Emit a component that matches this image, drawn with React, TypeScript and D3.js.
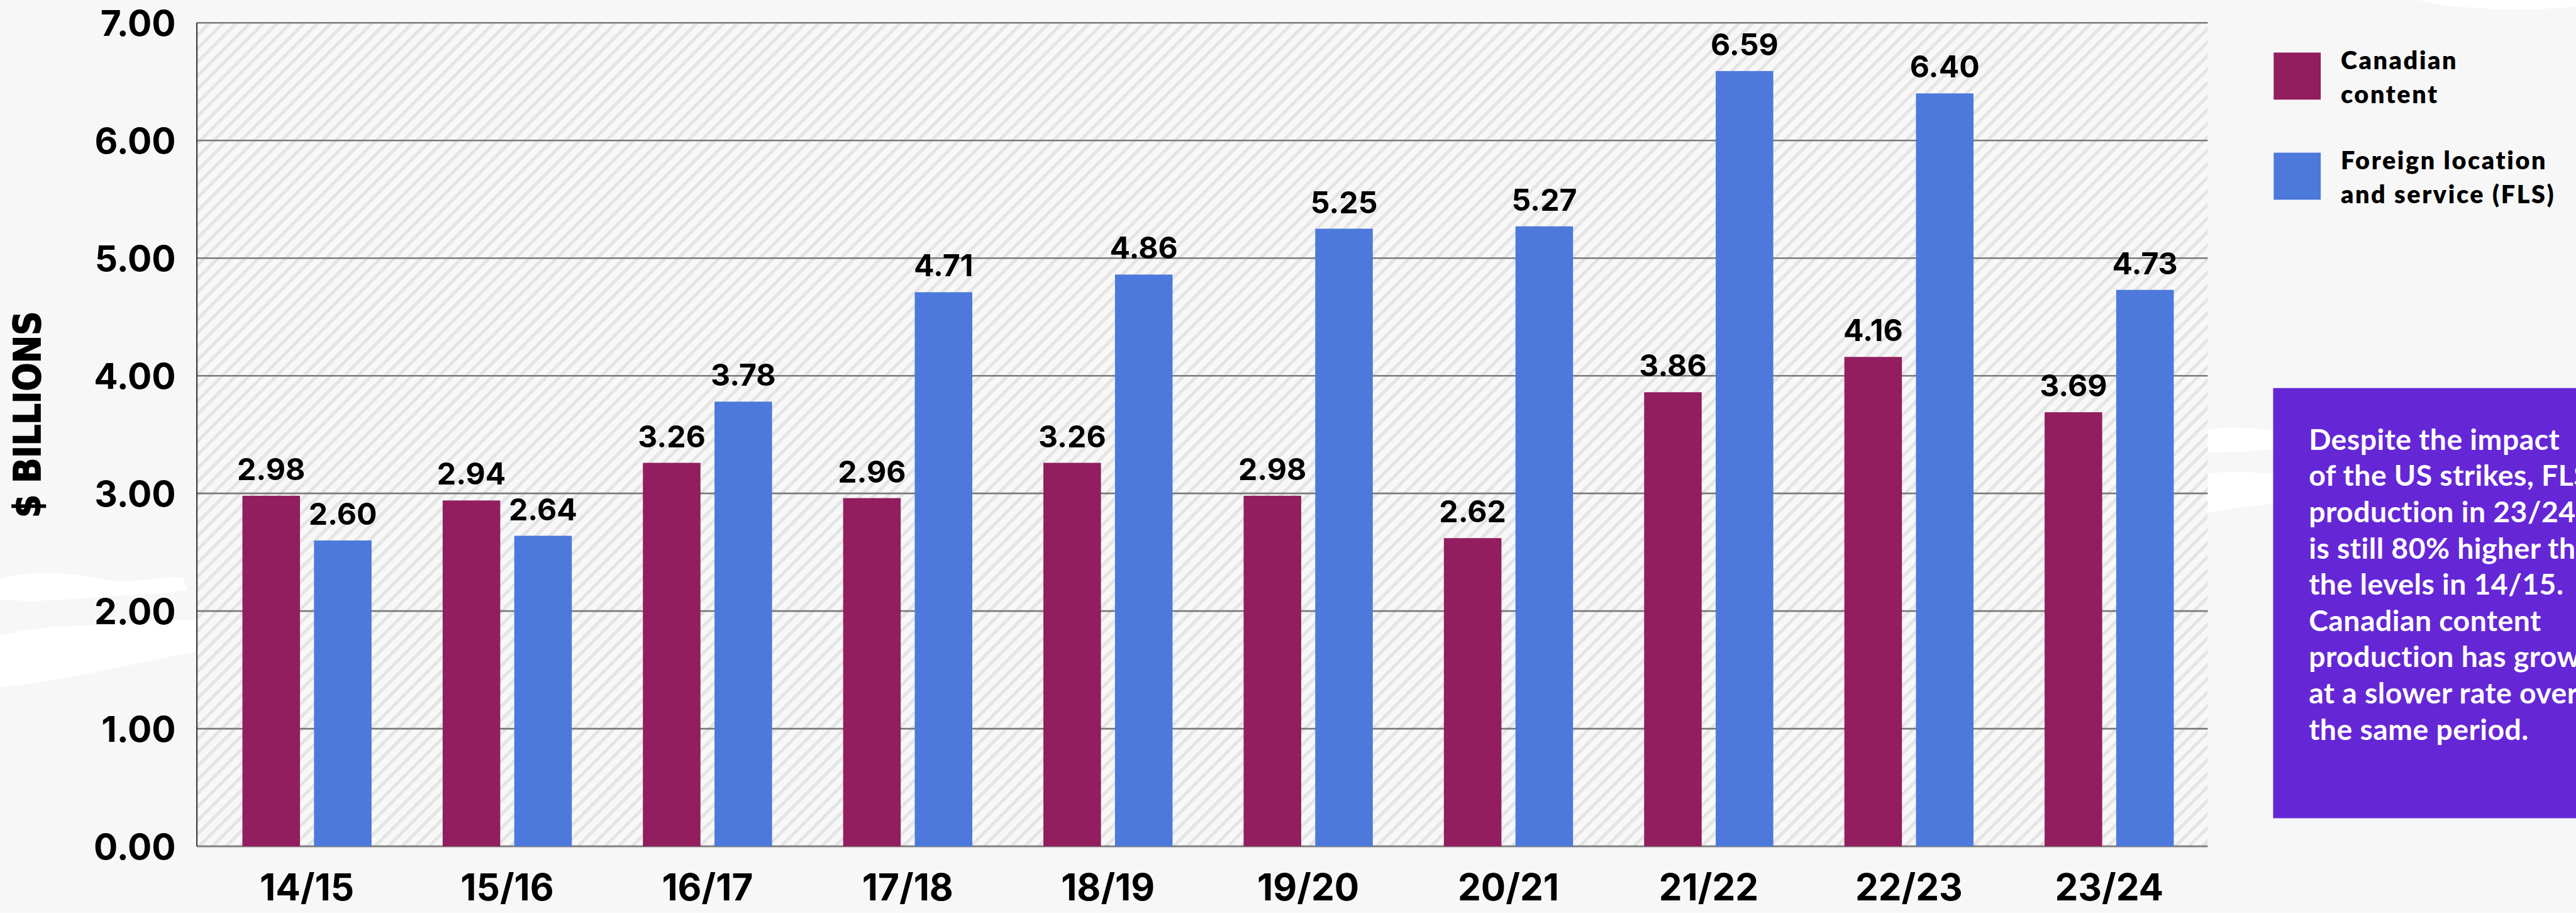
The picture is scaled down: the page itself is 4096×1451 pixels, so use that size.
import React from "react";
import * as d3 from "d3";

// chart data
const categories = ["14/15", "15/16", "16/17", "17/18", "18/19", "19/20", "20/21", "21/22", "22/23", "23/24"];
const canadian = [2.98, 2.94, 3.26, 2.96, 3.26, 2.98, 2.62, 3.86, 4.16, 3.69];
const fls = [2.6, 2.64, 3.78, 4.71, 4.86, 5.25, 5.27, 6.59, 6.4, 4.73];
const yTicks = [0, 1, 2, 3, 4, 5, 6, 7];
const seriesKeys = ["canadian", "fls"];
const seriesNames = [["Canadian", "content"], ["Foreign location", "and service (FLS)"]];
const calloutLines = [
  "Despite the impact",
  "of the US strikes, FLS",
  "production in 23/24",
  "is still 80% higher than",
  "the levels in 14/15.",
  "Canadian content",
  "production has grown",
  "at a slower rate over",
  "the same period.",
];

const colors = { canadian: "#921d5f", fls: "#4c79db" };

// reference canvas, scaled down to the window by the viewBox
const W = 4763;
const H = 1687;
const plot = { left: 364, right: 4082, top: 42, bottom: 1564 };

const numFont = "Inter, 'Liberation Sans', Arial, sans-serif";
const textFont = "Lato, 'Noto Sans', sans-serif";

export default function App() {
  const x0 = d3
    .scaleBand()
    .domain(categories)
    .range([382.5, 4085])
    .paddingInner(0.355)
    .paddingOuter(0.1775);

  const x1 = d3.scaleBand().domain(seriesKeys).range([0, x0.bandwidth()]).paddingInner(0.196);

  const y = d3.scaleLinear().domain([0, 7]).range([plot.bottom, plot.top]);

  const rows = categories.map((c, i) => ({ cat: c, canadian: canadian[i], fls: fls[i] }));

  return (
    <svg
      width={4096}
      height={1451}
      viewBox={`0 0 ${W} ${H}`}
      style={{ position: "absolute", left: 0, top: 0, display: "block" }}
    >
      <defs>
        <pattern id="hatch" patternUnits="userSpaceOnUse" width={17.7} height={17.7} patternTransform="rotate(45)">
          <rect width={17.7} height={17.7} fill="#f8f8f8" />
          <rect width={6} height={17.7} fill="#e4e4e4" />
        </pattern>
      </defs>

      <rect width={W} height={H} fill="#f7f7f7" />

      {/* white brush strokes in the background */}
      <g fill="#ffffff">
        <path d="M0,1070 C60,1050 140,1060 200,1072 C260,1080 300,1062 340,1068 L345,1090 C290,1100 230,1098 170,1104 C110,1110 50,1112 0,1108 Z" />
        <path d="M0,1175 C90,1150 180,1160 260,1150 C330,1142 400,1148 460,1140 L470,1180 C390,1200 300,1215 210,1235 C140,1250 70,1262 0,1270 Z" opacity={0.9} />
        <path d="M4050,800 C4100,785 4160,790 4205,796 L4205,830 C4150,835 4100,838 4055,834 Z" />
        <path d="M4060,880 C4110,868 4160,872 4205,876 L4205,930 C4150,936 4100,944 4070,950 C4050,930 4050,900 4060,880 Z" />
        <path d="M4470,0 L4763,0 L4763,12 C4680,20 4600,18 4520,10 Z" />
      </g>

      {/* plot area */}
      <rect x={plot.left} y={plot.top} width={plot.right - plot.left} height={plot.bottom - plot.top} fill="url(#hatch)" />

      {yTicks.slice(1).map((t) => (
        <line key={t} x1={plot.left} x2={plot.right} y1={y(t)} y2={y(t)} stroke="#7a7a7a" strokeWidth={3} />
      ))}
      <line x1={plot.left} x2={plot.right} y1={y(0)} y2={y(0)} stroke="#808080" strokeWidth={3.5} />
      <line x1={plot.left} x2={plot.left} y1={plot.top} y2={plot.bottom} stroke="#3a3a3a" strokeWidth={2.5} />

      {/* bars */}
      {rows.map((r) => (
        <g key={r.cat} transform={`translate(${x0(r.cat)},0)`}>
          {seriesKeys.map((k) => {
            const v = r[k];
            return (
              <g key={k}>
                <rect x={x1(k)} y={y(v)} width={x1.bandwidth()} height={y(0) - y(v)} fill={colors[k]} />
                <text
                  x={x1(k) + x1.bandwidth() / 2}
                  y={y(v) - 29}
                  textAnchor="middle"
                  fontFamily={numFont}
                  fontWeight={700}
                  fontSize={56}
                  fill="#000"
                >
                  {v.toFixed(2)}
                </text>
              </g>
            );
          })}
        </g>
      ))}

      {/* y axis labels */}
      {yTicks.map((t) => (
        <text
          key={t}
          x={325}
          y={y(t)}
          dy="0.36em"
          textAnchor="end"
          fontFamily={numFont}
          fontWeight={700}
          fontSize={66}
          fill="#000"
        >
          {t.toFixed(2)}
        </text>
      ))}

      <text
        transform="translate(74,766) rotate(-90)"
        textAnchor="middle"
        fontFamily="'Liberation Sans Narrow', 'DejaVu Sans Condensed', sans-serif"
        fontStretch="condensed"
        fontWeight={700}
        fontSize={68}
        stroke="#000"
        strokeWidth={2}
        fill="#000"
      >
        $ BILLIONS
      </text>

      {/* x axis labels */}
      {categories.map((c) => (
        <text
          key={c}
          x={x0(c) + x0.bandwidth() / 2}
          y={1664}
          textAnchor="middle"
          fontFamily={numFont}
          fontWeight={700}
          fontSize={68}
          fill="#000"
        >
          {c}
        </text>
      ))}

      {/* legend */}
      {seriesKeys.map((k, i) => (
        <g key={k} transform={`translate(4204,${97 + i * 185})`}>
          <rect width={87} height={87} fill={colors[k]} />
          {seriesNames[i].map((line, j) => (
            <text
              key={j}
              x={124}
              y={31 + j * 62}
              fontFamily={textFont}
              fontWeight={800}
              fontSize={46}
              letterSpacing={3}
              fill="#000"
            >
              {line}
            </text>
          ))}
        </g>
      ))}

      {/* callout */}
      <rect x={4203} y={717} width={W - 4203} height={1512 - 717} fill="#6527d6" />
      {calloutLines.map((line, i) => (
        <text
          key={i}
          x={4269}
          y={831 + i * 67}
          fontFamily={textFont}
          fontWeight={700}
          fontSize={54}
          letterSpacing={0.5}
          fill="#ffffff"
        >
          {line}
        </text>
      ))}
    </svg>
  );
}
